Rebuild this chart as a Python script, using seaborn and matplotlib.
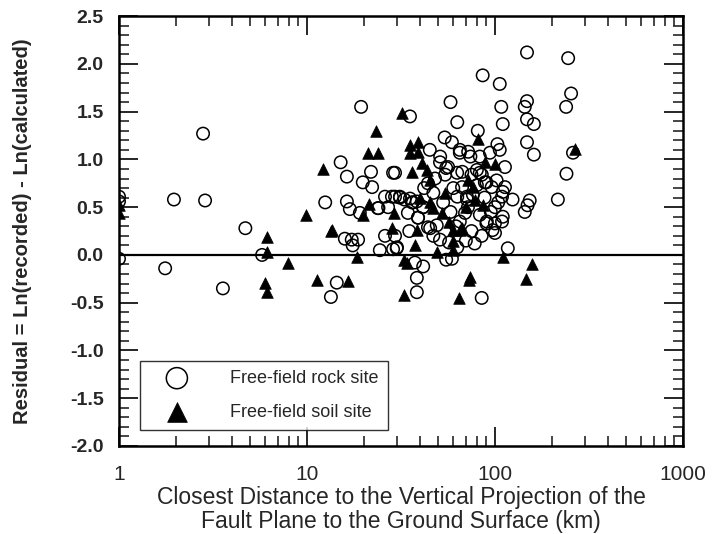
import numpy as np
import pandas as pd
import matplotlib
matplotlib.use('Agg')
import matplotlib.pyplot as plt
from matplotlib.ticker import FixedLocator, NullFormatter, LogLocator
import seaborn as sns

# Free-field rock site (distance km, residual)
rock_dist = [1, 1, 1, 1.76, 1.96, 2.8, 2.87, 3.57, 4.7, 5.77,
             12.5, 13.4, 14.4, 15.1, 16.3, 16.3, 16.9, 15.9, 17.3, 18.7,
             17.5, 19.4, 19.8, 21.9, 22.2, 19.1, 24.0, 26.0, 27.0, 26.0,
             24.4, 28.7, 28.7, 29.4, 31.2, 35.3, 58, 63, 86, 106,
             108, 110, 148, 245, 148, 144, 148, 161, 254, 239,
             81, 54, 59, 65, 72, 45, 103, 106, 148, 161,
             260, 240, 216, 153, 149, 144, 124, 113, 102, 113,
             110, 109, 104, 110, 109, 100, 117, 29.4, 51, 55,
             65, 74, 83, 94, 67, 75, 83, 90, 96, 33,
             36.6, 41.5, 63, 71, 39, 44, 49, 90, 97, 30,
             51, 57, 63, 37.5, 41.5, 38.4, 38.4, 85, 55, 59,
             56.3, 54.3, 62.9, 66.8, 70.9, 76.3, 80.1, 80.1, 85.1, 88.3,
             69.3, 71.8, 83.1, 90.5, 99.9, 34.4, 38.9, 45.2, 36.2, 38.4,
             41.4, 51.1, 23.8, 28.3, 31.2, 35.3, 29.4, 30.1, 47, 60,
             44, 48, 42, 58, 65, 75, 47, 35, 53, 62,
             78, 85, 70, 100, 95, 88]
rock_resid = [0.61, 0.56, -0.04, -0.14, 0.58, 1.27, 0.57, -0.35, 0.28, 0.0,
              0.55, -0.44, -0.29, 0.97, 0.82, 0.56, 0.48, 0.17, 0.16, 0.16,
              0.10, 1.55, 0.76, 0.87, 0.71, 0.44, 0.49, 0.61, 0.50, 0.20,
              0.05, 0.06, 0.86, 0.61, 0.61, 1.45, 1.60, 1.39, 1.88, 1.79,
              1.55, 1.37, 2.12, 2.06, 1.61, 1.55, 1.42, 1.37, 1.69, 1.55,
              1.30, 1.23, 1.18, 1.10, 1.08, 1.10, 1.16, 1.10, 1.18, 1.05,
              1.07, 0.85, 0.58, 0.57, 0.52, 0.45, 0.58, 0.92, 0.78, 0.71,
              0.66, 0.61, 0.55, 0.40, 0.35, 0.23, 0.07, 0.86, 0.97, 0.91,
              1.07, 1.03, 1.03, 1.07, 0.87, 0.84, 0.86, 0.76, 0.71, 0.58,
              0.55, 0.50, 0.61, 0.58, 0.39, 0.29, 0.31, 0.33, 0.26, 0.07,
              0.16, 0.13, 0.08, -0.08, -0.12, -0.24, -0.39, -0.45, -0.05, -0.04,
              0.92, 0.84, 0.86, 0.71, 0.61, 0.63, 0.73, 0.89, 0.84, 0.76,
              0.44, 0.50, 0.42, 0.35, 0.33, 0.44, 0.39, 0.28, 0.55, 0.56,
              0.50, 1.03, 0.49, 0.61, 0.60, 0.59, 0.20, 0.08, 0.65, 0.70,
              0.75, 0.80, 0.70, 0.45, 0.35, 0.25, 0.20, 0.25, 0.55, 0.30,
              0.12, 0.20, 0.15, 0.50, 0.45, 0.60]

# Free-field soil site
soil_dist = [1, 1, 6.13, 6.13, 6.0, 6.13, 7.9, 9.9, 11.3, 12.2,
             13.4, 13.6, 16.5, 18.4, 21.1, 23.8, 23.3, 32, 21.3, 19.8,
             29, 28.3, 36, 41, 35.3, 38.9, 35.3, 38.9, 81, 267,
             47, 54, 78, 86, 57, 65, 37.5, 49, 60, 33,
             34, 74, 33, 73, 64, 158, 146, 110, 43.6, 45.2,
             71.8, 76.3, 88, 52.4, 59.9, 66.8, 59.9, 38.4, 100, 70,
             40, 45]
soil_resid = [0.52, 0.44, 0.19, 0.03, -0.29, -0.39, -0.08, 0.42, -0.26, 0.90,
              0.25, 0.26, -0.27, -0.02, 1.07, 1.07, 1.30, 1.49, 0.53, 0.42,
              0.44, 0.28, 0.87, 0.96, 1.15, 1.18, 1.07, 1.08, 1.21, 1.11,
              0.49, 0.65, 0.58, 0.52, 0.35, 0.26, 0.10, 0.03, 0.05, -0.05,
              -0.08, -0.23, -0.42, -0.26, -0.45, -0.09, -0.25, -0.02, 0.89, 0.78,
              0.78, 0.71, 0.97, 0.44, 0.26, 0.28, 0.15, 0.26, 0.95, 0.50,
              0.60, 0.55]

x_ticks = [1, 10, 100, 1000]
y_ticks = np.arange(-2.0, 2.51, 0.5)

rock = pd.DataFrame({'dist': rock_dist, 'resid': rock_resid})
soil = pd.DataFrame({'dist': soil_dist, 'resid': soil_resid})

sns.set_theme(style='white')
plt.rcParams['font.family'] = ['Liberation Sans', 'DejaVu Sans']

fig = plt.figure(figsize=(7.13, 5.34), dpi=100)
ax = fig.add_axes([0.1669, 0.1648, 0.791, 0.805])

sns.scatterplot(data=rock, x='dist', y='resid', ax=ax, marker='o', s=80,
                facecolor='none', edgecolor='black', linewidth=1.1,
                label='Free-field rock site', zorder=3)
sns.scatterplot(data=soil, x='dist', y='resid', ax=ax, marker='^', s=70,
                color='black', edgecolor='black', linewidth=0.5,
                label='Free-field soil site', zorder=4)

ax.axhline(0, color='black', lw=1.6, zorder=2)

ax.set_xscale('log')
ax.set_xlim(1, 1000)
ax.set_ylim(-2.0, 2.5)
ax.set_yticks(y_ticks)
ax.yaxis.set_minor_locator(FixedLocator(np.arange(-2.0, 2.51, 0.1)))
ax.xaxis.set_minor_locator(LogLocator(base=10, subs=np.arange(2, 10)))
ax.xaxis.set_minor_formatter(NullFormatter())
ax.set_xticks(x_ticks)
ax.set_xticklabels([str(v) for v in x_ticks])
ax.set_yticklabels([f'{v:.1f}' for v in y_ticks], fontweight='bold')

ax.tick_params(which='major', direction='in', length=14, width=1.4,
               top=True, right=True, bottom=True, left=True)
ax.tick_params(which='minor', direction='in', length=7, width=1.2,
               top=True, right=True, bottom=True, left=True)
ax.tick_params(axis='y', which='major', pad=11, labelsize=14)
ax.tick_params(axis='x', which='major', pad=14, labelsize=15)

for sp in ax.spines.values():
    sp.set_color('black')
    sp.set_linewidth(1.8)

ax.set_xlabel('Closest Distance to the Vertical Projection of the\n'
              'Fault Plane to the Ground Surface (km)',
              fontsize=16.5, linespacing=1.05, labelpad=1)
ax.set_ylabel('Residual = Ln(recorded) - Ln(calculated)',
              fontweight='bold', fontsize=14.5)
ax.yaxis.set_label_coords(-0.155, 0.5)

leg = ax.legend(loc='lower left', bbox_to_anchor=(0.037, 0.037),
                borderaxespad=0, frameon=True, fancybox=False,
                edgecolor='black', fontsize=13, markerscale=1.7,
                handletextpad=1.4, borderpad=0.5, labelspacing=0.95,
                handlelength=3.1)
leg.get_frame().set_linewidth(1.0)

fig.savefig('out.png', dpi=100)
